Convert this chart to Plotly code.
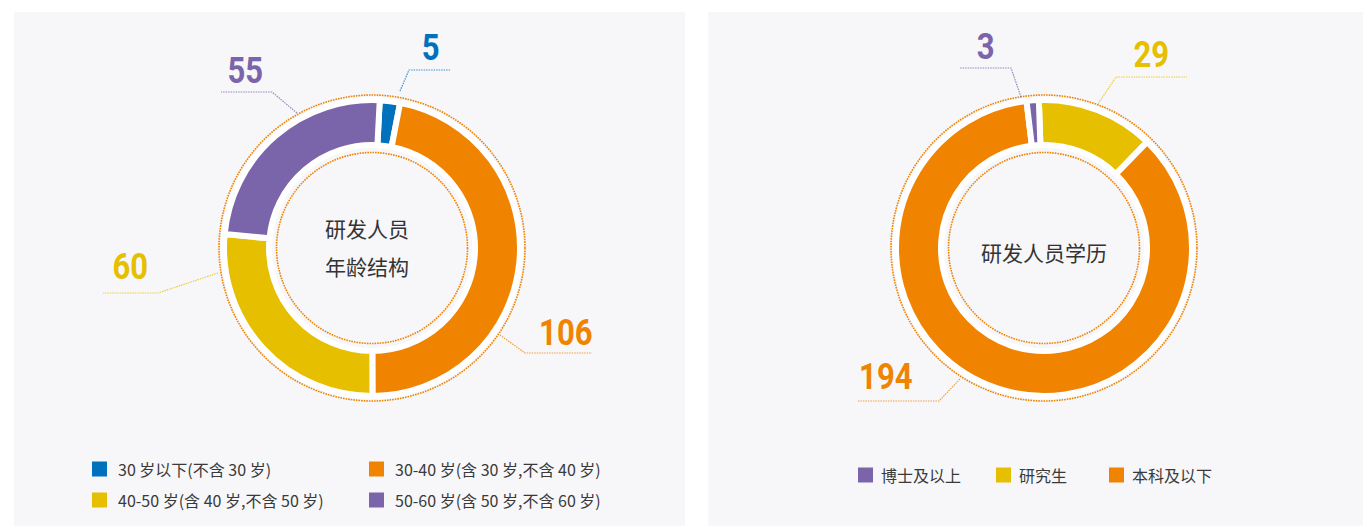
import plotly.graph_objects as go

W, H = 1371, 526
OX, OY = 8, 8  # page body margin: screen pixel = figure pixel + 8

# ---------------- data ----------------
age_labels = ["30 岁以下(不含 30 岁)", "30-40 岁(含 30 岁,不含 40 岁)",
              "40-50 岁(含 40 岁,不含 50 岁)", "50-60 岁(含 50 岁,不含 60 岁)"]
age_values = [5, 106, 60, 55]
age_colors = ["#0071bc", "#f08300", "#e6bf00", "#7a64aa"]

edu_labels = ["研究生", "本科及以下", "博士及以上"]
edu_values = [29, 194, 3]
edu_colors = ["#e6bf00", "#f08300", "#7a64aa"]
edu_legend_order = ["博士及以上", "研究生", "本科及以下"]

age_title = ["研发人员", "年龄结构"]
edu_title = "研发人员学历"

# ---------------- layout helpers ----------------
BG = "#f7f7f9"
LINE_W = 6
R_OUT, R_IN = 145, 106
R_DOT_OUT, R_DOT_IN = 153, 95.5
NUM_FONT = "Roboto, Lato, Noto Sans, sans-serif"
CJK = "Noto Sans CJK SC, Noto Sans, sans-serif"


def pie_domain(cx, cy, r):
    fx, fy = cx - OX, cy - OY
    return dict(x=[(fx - r) / W, (fx + r) / W], y=[(H - fy - r) / H, (H - fy + r) / H])


fig = go.Figure()
shapes = []
annotations = []

# panels
shapes.append(dict(type="rect", xref="x", yref="y", x0=14, x1=685, y0=12, y1=H + OY + 2,
                   fillcolor=BG, line=dict(width=0), layer="below"))
shapes.append(dict(type="rect", xref="x", yref="y", x0=708, x1=W + OX + 2, y0=12, y1=H + OY + 2,
                   fillcolor=BG, line=dict(width=0), layer="below"))

charts = [
    dict(cx=372, cy=248, labels=age_labels, values=age_values, colors=age_colors, rotation=3),
    dict(cx=1044, cy=248, labels=edu_labels, values=edu_values, colors=edu_colors, rotation=-2),
]

r_dom = R_OUT + LINE_W / 2
hole = (R_IN - LINE_W / 2) / r_dom
for c in charts:
    fig.add_trace(go.Pie(
        labels=c["labels"], values=c["values"], sort=False, direction="clockwise",
        rotation=c["rotation"], hole=hole, textinfo="none", hoverinfo="label+value",
        marker=dict(colors=c["colors"], line=dict(color="#ffffff", width=LINE_W)),
        domain=pie_domain(c["cx"], c["cy"], r_dom), showlegend=False,
    ))
    for r in (R_DOT_OUT, R_DOT_IN):
        shapes.append(dict(type="circle", xref="x", yref="y",
                           x0=c["cx"] - r, x1=c["cx"] + r, y0=c["cy"] - r, y1=c["cy"] + r,
                           line=dict(color="#f08300", width=1.6, dash="1.6px,1px"), layer="above"))

# value labels with leader lines (label text from data arrays)
age_callouts = [
    (age_values[0], age_colors[0], (430, 47), [(400, 91), (409, 70), (450, 70)]),
    (age_values[1], age_colors[1], (566, 332), [(500, 335), (525, 353), (592, 353)]),
    (age_values[2], age_colors[2], (130, 266), [(218, 273), (158, 293), (103, 293)]),
    (age_values[3], age_colors[3], (245, 70), [(297, 113), (272, 92), (221, 92)]),
]
edu_callouts = [
    (edu_values[0], edu_colors[0], (1151, 54), [(1098, 104), (1116, 77), (1187, 77)]),
    (edu_values[1], edu_colors[1], (886, 376), [(960, 379), (939, 401), (857, 401)]),
    (edu_values[2], edu_colors[2], (985, 46), [(1021, 97), (1011, 68), (960, 68)]),
]
for val, col, (tx, ty), pts in age_callouts + edu_callouts:
    path = "M " + " L ".join(f"{x},{y}" for x, y in pts)
    shapes.append(dict(type="path", xref="x", yref="y", path=path,
                       line=dict(color=col, width=1.2, dash="1.5px,1px"), opacity=0.75))
    annotations.append(dict(x=tx, y=ty, xref="x", yref="y", text=f"<b>{val}</b>", showarrow=False,
                            font=dict(family=NUM_FONT, size=37, color=col),
                            xanchor="center", yanchor="middle"))

# centre titles
annotations.append(dict(x=367, y=228, xref="x", yref="y", text=age_title[0], showarrow=False,
                        font=dict(family=CJK, size=21, color="#333333")))
annotations.append(dict(x=367, y=266, xref="x", yref="y", text=age_title[1], showarrow=False,
                        font=dict(family=CJK, size=21, color="#333333")))
annotations.append(dict(x=1044, y=252, xref="x", yref="y", text=edu_title, showarrow=False,
                        font=dict(family=CJK, size=21, color="#333333")))

# legends
SQ = 15
age_leg_pos = [(92, 469), (369, 469), (92, 500), (369, 500)]
for lab, col, (x, y) in zip(age_labels, age_colors, age_leg_pos):
    shapes.append(dict(type="rect", xref="x", yref="y", x0=x, x1=x + SQ, y0=y - SQ / 2, y1=y + SQ / 2,
                       fillcolor=col, line=dict(width=0)))
    annotations.append(dict(x=x + 24, y=y, xref="x", yref="y", text=lab, showarrow=False,
                            xanchor="left", yanchor="middle",
                            font=dict(family=CJK, size=16, color="#3a3a3a")))

edu_leg_x = [858, 996, 1109]
for lab, x in zip(edu_legend_order, edu_leg_x):
    col = edu_colors[edu_labels.index(lab)]
    y = 475
    shapes.append(dict(type="rect", xref="x", yref="y", x0=x, x1=x + SQ, y0=y - SQ / 2, y1=y + SQ / 2,
                       fillcolor=col, line=dict(width=0)))
    annotations.append(dict(x=x + 21, y=y, xref="x", yref="y", text=lab, showarrow=False,
                            xanchor="left", yanchor="middle",
                            font=dict(family=CJK, size=16, color="#3a3a3a")))

fig.update_layout(
    width=W, height=H, margin=dict(l=0, r=0, t=0, b=0),
    paper_bgcolor="#ffffff", plot_bgcolor="rgba(0,0,0,0)",
    xaxis=dict(range=[OX, W + OX], visible=False, fixedrange=True),
    yaxis=dict(range=[H + OY, OY], visible=False, fixedrange=True),
    shapes=shapes, annotations=annotations, showlegend=False,
)

# narrow the big value numbers (condensed look) after drawing
post = """
var gd = document.getElementById('{plot_id}');
gd.querySelectorAll('text.annotation-text').forEach(function(t){
  if (/^\\d+$/.test(t.textContent.trim())) {
    t.style.transformBox = 'fill-box';
    t.style.transformOrigin = 'center';
    t.style.transform = 'scaleX(0.84)';
  }
});
"""

fig.write_html("out.html", post_script=post)
